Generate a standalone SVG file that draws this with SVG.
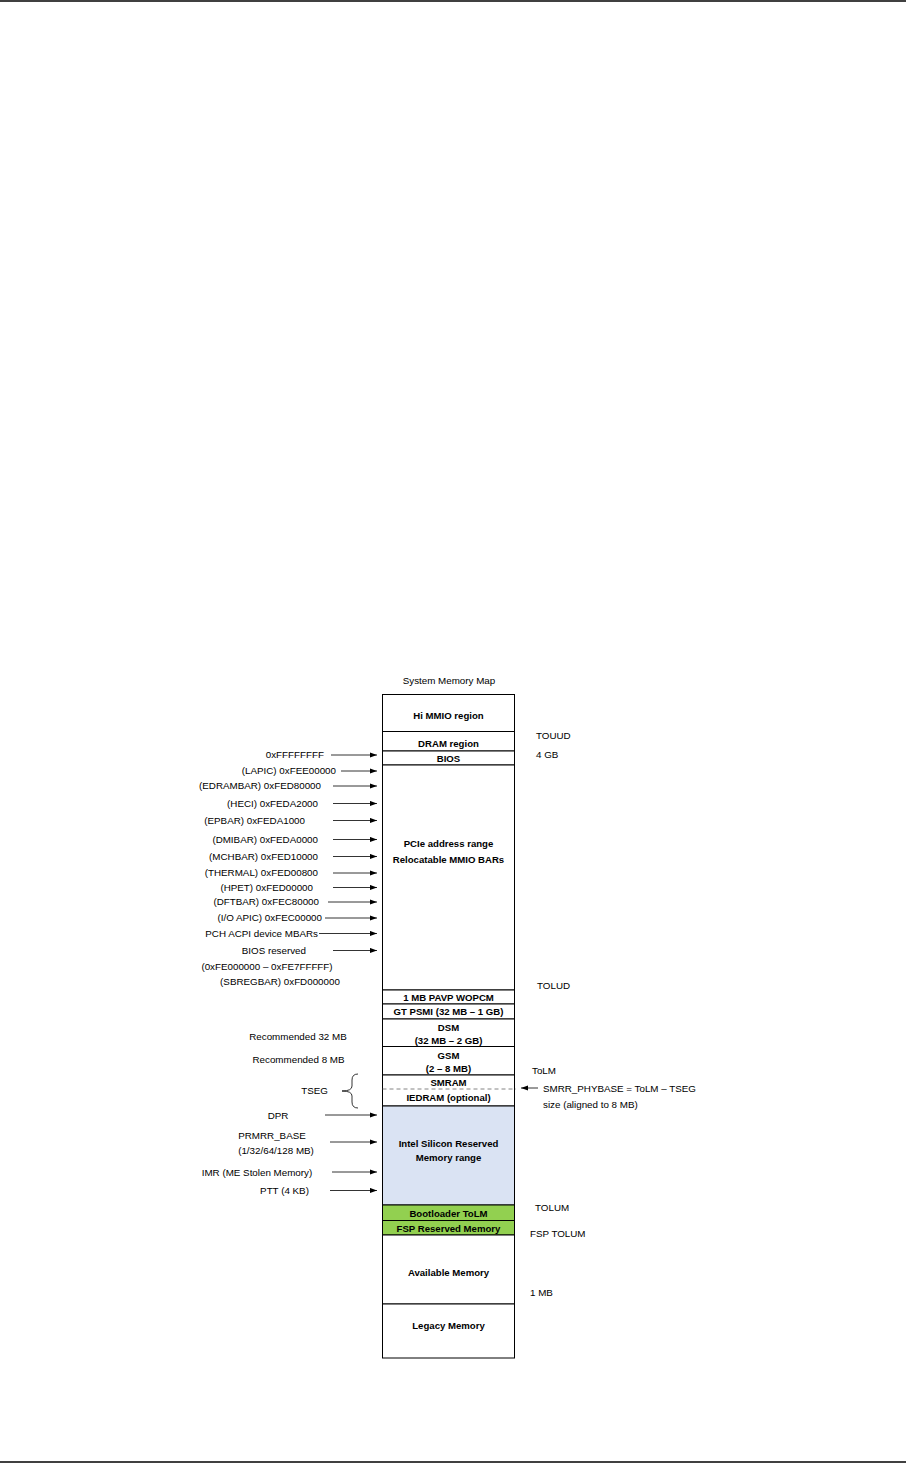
<svg xmlns="http://www.w3.org/2000/svg" width="908" height="1463" viewBox="0 0 908 1463">
<style>
text{font-family:"Liberation Sans",Arial,sans-serif;font-size:9.8px;fill:#000}
.b{font-weight:bold;font-size:9.6px;text-anchor:middle}
.m{text-anchor:middle}
.e{text-anchor:end}
.reg{fill:#fff;stroke:#000;stroke-width:1}
.blue{fill:#dae3f3;stroke:#000;stroke-width:1}
.green{fill:#92d050;stroke:#000;stroke-width:1}
.arr{stroke:#000;stroke-width:0.8;fill:none;marker-end:url(#ah)}
.page{stroke:#000;stroke-width:1.5}
</style>
<defs>
<marker id="ah" markerUnits="userSpaceOnUse" markerWidth="8" markerHeight="6" refX="7" refY="3" orient="auto">
<path d="M0,0.4 L7,3 L0,5.6 Z" fill="#000"/>
</marker>
</defs>
<rect width="908" height="1463" fill="#fff"/>
<line class="page" x1="0" y1="1" x2="906" y2="1"/>
<line class="page" x1="0" y1="1462" x2="906" y2="1462"/>

<text id="title" class="m" x="449" y="683.5">System Memory Map</text>

<g id="hi-mmio"><rect class="reg" x="382.5" y="694.5" width="132" height="37"/><text class="b" x="448.5" y="718.5">Hi MMIO region</text></g>
<g id="dram"><rect class="reg" x="382.5" y="731.5" width="132" height="19.5"/><text class="b" x="448.5" y="747">DRAM region</text></g>
<g id="bios"><rect class="reg" x="382.5" y="751" width="132" height="14"/><text class="b" x="448.5" y="762">BIOS</text></g>
<g id="pcie"><rect class="reg" x="382.5" y="765" width="132" height="225"/><text class="b" x="448.5" y="846.5">PCIe address range</text><text class="b" x="448.5" y="862.5">Relocatable MMIO BARs</text></g>
<g id="pavp"><rect class="reg" x="382.5" y="990" width="132" height="14"/><text class="b" x="448.5" y="1000.5">1 MB PAVP WOPCM</text></g>
<g id="gtpsmi"><rect class="reg" x="382.5" y="1004" width="132" height="15"/><text class="b" x="448.5" y="1015.3">GT PSMI (32 MB – 1 GB)</text></g>
<g id="dsm"><rect class="reg" x="382.5" y="1019" width="132" height="27.5"/><text class="b" x="448.5" y="1031">DSM</text><text class="b" x="448.5" y="1043.5">(32 MB – 2 GB)</text></g>
<g id="gsm"><rect class="reg" x="382.5" y="1046.5" width="132" height="28.5"/><text class="b" x="448.5" y="1059">GSM</text><text class="b" x="448.5" y="1072">(2 – 8 MB)</text></g>
<g id="smram"><rect class="reg" x="382.5" y="1075" width="132" height="31"/><text class="b" x="448.5" y="1086.3">SMRAM</text><text class="b" x="448.5" y="1101.3">IEDRAM (optional)</text></g>
<g id="isr"><rect class="blue" x="382.5" y="1106" width="132" height="99"/><text class="b" x="448.5" y="1146.5">Intel Silicon Reserved</text><text class="b" x="448.5" y="1160.5">Memory range</text></g>
<g id="bootloader"><rect class="green" x="382.5" y="1205" width="132" height="15.5"/><text class="b" x="448.5" y="1216.5">Bootloader ToLM</text></g>
<g id="fsp"><rect class="green" x="382.5" y="1220.5" width="132" height="14.5"/><text class="b" x="448.5" y="1231.5">FSP Reserved Memory</text></g>
<g id="available"><rect class="reg" x="382.5" y="1235" width="132" height="69"/><text class="b" x="448.5" y="1275.5">Available Memory</text></g>
<g id="legacy"><rect class="reg" x="382.5" y="1304" width="132" height="54"/><text class="b" x="448.5" y="1328.5">Legacy Memory</text></g>

<g id="right-labels">
<text x="536" y="738.5">TOUUD</text>
<text x="536" y="757.5">4 GB</text>
<text x="537" y="988.5">TOLUD</text>
<text x="532" y="1073.5">ToLM</text>
<text x="543" y="1091.5">SMRR_PHYBASE = ToLM – TSEG</text>
<text x="543" y="1107.5">size (aligned to 8 MB)</text>
<text x="535" y="1210.5">TOLUM</text>
<text x="530" y="1236.5">FSP TOLUM</text>
<text x="530" y="1295.5">1 MB</text>
</g>

<g id="left-labels">
<text class="e" x="324" y="758.3">0xFFFFFFFF</text>
<text class="e" x="336" y="774.3">(LAPIC) 0xFEE00000</text>
<text class="e" x="321" y="789.3">(EDRAMBAR) 0xFED80000</text>
<text class="e" x="318" y="806.8">(HECI) 0xFEDA2000</text>
<text class="e" x="305" y="823.8">(EPBAR) 0xFEDA1000</text>
<text class="e" x="318" y="842.8">(DMIBAR) 0xFEDA0000</text>
<text class="e" x="318" y="859.8">(MCHBAR) 0xFED10000</text>
<text class="e" x="318" y="876.3">(THERMAL) 0xFED00800</text>
<text class="e" x="313" y="890.8">(HPET) 0xFED00000</text>
<text class="e" x="319" y="905.3">(DFTBAR) 0xFEC80000</text>
<text class="e" x="322" y="921.3">(I/O APIC) 0xFEC00000</text>
<text class="e" x="318" y="936.8">PCH ACPI device MBARs</text>
<text class="e" x="306" y="953.8">BIOS reserved</text>
<text class="m" x="267" y="970">(0xFE000000 – 0xFE7FFFFF)</text>
<text class="m" x="280" y="985.3">(SBREGBAR) 0xFD000000</text>
<text class="m" x="298" y="1040">Recommended 32 MB</text>
<text class="m" x="298.5" y="1062.5">Recommended 8 MB</text>
<text class="m" x="314.5" y="1094">TSEG</text>
<text class="m" x="278" y="1118.5">DPR</text>
<text class="m" x="272" y="1138.5">PRMRR_BASE</text>
<text class="m" x="276" y="1153.5">(1/32/64/128 MB)</text>
<text class="m" x="257" y="1175.5">IMR (ME Stolen Memory)</text>
<text class="m" x="284.5" y="1194">PTT (4 KB)</text>
</g>

<g id="connectors">
<line class="arr" x1="331" y1="755" x2="377" y2="755"/>
<line class="arr" x1="341" y1="771" x2="377" y2="771"/>
<line class="arr" x1="333" y1="786" x2="377" y2="786"/>
<line class="arr" x1="333" y1="803.5" x2="377" y2="803.5"/>
<line class="arr" x1="333" y1="820.5" x2="377" y2="820.5"/>
<line class="arr" x1="333" y1="839.5" x2="377" y2="839.5"/>
<line class="arr" x1="333" y1="856.5" x2="377" y2="856.5"/>
<line class="arr" x1="333" y1="873" x2="377" y2="873"/>
<line class="arr" x1="333" y1="887.5" x2="377" y2="887.5"/>
<line class="arr" x1="328" y1="902" x2="377" y2="902"/>
<line class="arr" x1="325" y1="918" x2="377" y2="918"/>
<line class="arr" x1="319" y1="933.5" x2="377" y2="933.5"/>
<line class="arr" x1="333" y1="950.5" x2="377" y2="950.5"/>
<line class="arr" x1="325" y1="1115" x2="377" y2="1115"/>
<line class="arr" x1="330" y1="1142" x2="377" y2="1142"/>
<line class="arr" x1="332" y1="1172" x2="377" y2="1172"/>
<line class="arr" x1="330" y1="1190.5" x2="377" y2="1190.5"/>
<line class="arr" x1="538" y1="1088" x2="521" y2="1088"/>
<line x1="382.5" y1="1089" x2="516" y2="1089" stroke="#666" stroke-width="0.8" stroke-dasharray="4,3"/>
<path d="M358,1074 Q352,1074 352,1080 L352,1086 Q352,1091 342,1091 Q352,1091 352,1096 L352,1102 Q352,1108 358,1108" fill="none" stroke="#000" stroke-width="0.8"/>
</g>
</svg>
